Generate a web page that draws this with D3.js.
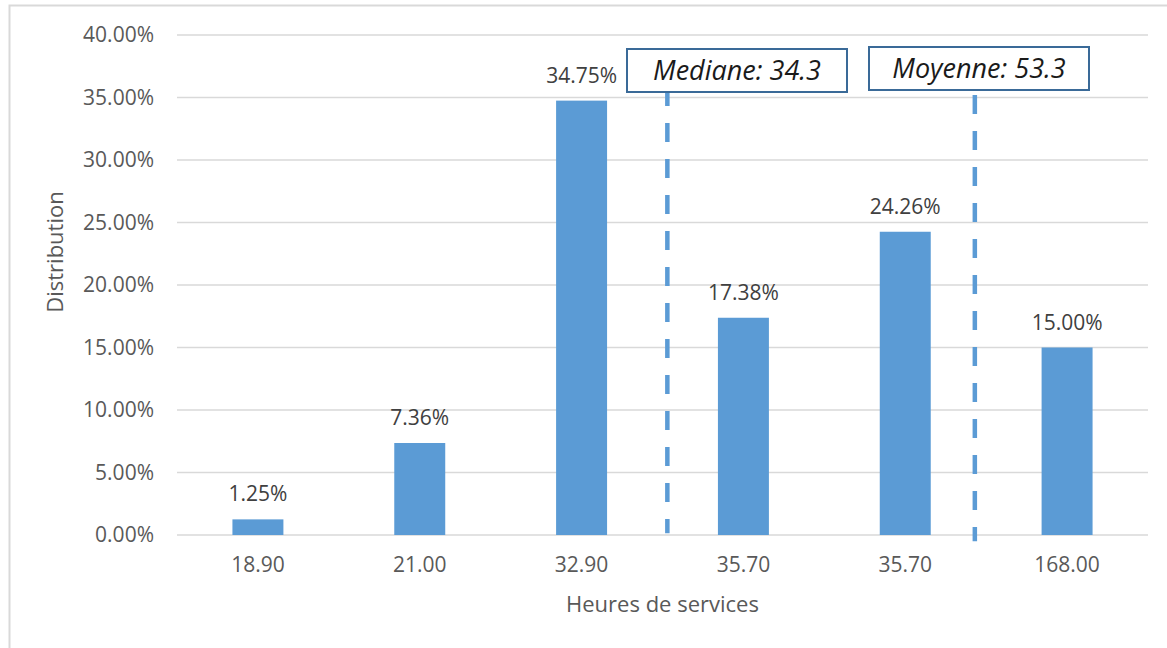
<!DOCTYPE html>
<html>
<head>
<meta charset="utf-8">
<script src="https://cdn.jsdelivr.net/npm/d3@7"></script>
<style>
  html, body { margin: 0; padding: 0; background: #fff; }
  svg { display: block; font-family: "Open Sans", sans-serif; }
</style>
</head>
<body>
<svg id="chart" width="1167" height="648"></svg>
<script>
// Distribution of service hours
const categories = ["18.90", "21.00", "32.90", "35.70", "35.70", "168.00"];
const shares = [0.0125, 0.0736, 0.3475, 0.1738, 0.2426, 0.15];
const yTicks = [0, 0.05, 0.10, 0.15, 0.20, 0.25, 0.30, 0.35, 0.40];

// Reference markers: label, value and their position along the category axis (category index units)
const markerLabels = ["Mediane", "Moyenne"];
const markerValues = [34.3, 53.3];
const markerPositions = [2.53, 4.43];

const W = 1167, H = 648;
const plot = { left: 177, right: 1148, top: 35, bottom: 535 };

const svg = d3.select("#chart");

// outer chart frame
svg.append("rect")
  .attr("x", 9.5).attr("y", 5.5)
  .attr("width", 1300).attr("height", 800)
  .attr("fill", "none").attr("stroke", "#D9D9D9").attr("stroke-width", 2);

const x = d3.scaleBand()
  .domain(d3.range(categories.length))
  .range([plot.left, plot.right])
  .paddingInner(0.685).paddingOuter(0.3425);

const xPos = d3.scaleLinear()
  .domain([-0.5, categories.length - 0.5])
  .range([plot.left, plot.right]);

const y = d3.scaleLinear().domain([0, 0.40]).range([plot.bottom, plot.top]);

const pct = d3.format(".2%");

// horizontal gridlines
svg.append("g")
  .selectAll("line")
  .data(yTicks)
  .join("line")
  .attr("x1", plot.left).attr("x2", plot.right)
  .attr("y1", d => y(d)).attr("y2", d => y(d))
  .attr("stroke", "#D9D9D9").attr("stroke-width", 1.5);

// y axis labels
const yAxis = d3.axisLeft(y).tickValues(yTicks).tickFormat(pct).tickSize(0).tickPadding(23);
const gy = svg.append("g").attr("transform", `translate(${plot.left},0)`).call(yAxis);
gy.select(".domain").remove();
gy.selectAll("text")
  .attr("fill", "#595959").attr("font-size", 21).attr("font-family", "Open Sans, sans-serif");

// x axis labels
const xAxis = d3.axisBottom(x).tickFormat(i => categories[i]).tickSize(0).tickPadding(22);
const gx = svg.append("g").attr("transform", `translate(0,${plot.bottom})`).call(xAxis);
gx.select(".domain").remove();
gx.selectAll("text")
  .attr("fill", "#595959").attr("font-size", 21).attr("font-family", "Open Sans, sans-serif");

// bars
svg.append("g")
  .selectAll("rect")
  .data(shares)
  .join("rect")
  .attr("x", (d, i) => x(i))
  .attr("width", x.bandwidth())
  .attr("y", d => y(d))
  .attr("height", d => y(0) - y(d))
  .attr("fill", "#5B9BD5");

// value labels
svg.append("g")
  .selectAll("text")
  .data(shares)
  .join("text")
  .attr("x", (d, i) => x(i) + x.bandwidth() / 2)
  .attr("y", d => y(d) - 18)
  .attr("text-anchor", "middle")
  .attr("fill", "#404040")
  .attr("font-size", 21)
  .text(d => pct(d));

// median / mean dashed markers
const markerTop = [0.3585, 0.352];
const markerBottom = [0.0015, -0.005];
const boxLeft = [627, 869];
const boxTop = [49, 47];

markerValues.forEach((v, i) => {
  const mx = xPos(markerPositions[i]);
  svg.append("line")
    .attr("x1", mx).attr("x2", mx)
    .attr("y1", y(markerTop[i])).attr("y2", y(markerBottom[i]))
    .attr("stroke", "#5B9BD5").attr("stroke-width", 4.5)
    .attr("stroke-dasharray", "19,17");

  svg.append("rect")
    .attr("x", boxLeft[i]).attr("y", boxTop[i])
    .attr("width", 220).attr("height", 43)
    .attr("fill", "#fff")
    .attr("stroke", "#3A6A98").attr("stroke-width", 2);

  svg.append("text")
    .attr("x", boxLeft[i] + 110).attr("y", boxTop[i] + 31)
    .attr("text-anchor", "middle")
    .attr("font-style", "italic")
    .attr("font-size", 27)
    .attr("fill", "#1a1a1a")
    .text(`${markerLabels[i]}: ${v}`);
});

// axis titles
svg.append("text")
  .attr("x", (plot.left + plot.right) / 2).attr("y", 612)
  .attr("text-anchor", "middle")
  .attr("fill", "#595959").attr("font-size", 22)
  .text("Heures de services");

svg.append("text")
  .attr("transform", "translate(63,252) rotate(-90)")
  .attr("text-anchor", "middle")
  .attr("fill", "#595959").attr("font-size", 22)
  .text("Distribution");
</script>
</body>
</html>
